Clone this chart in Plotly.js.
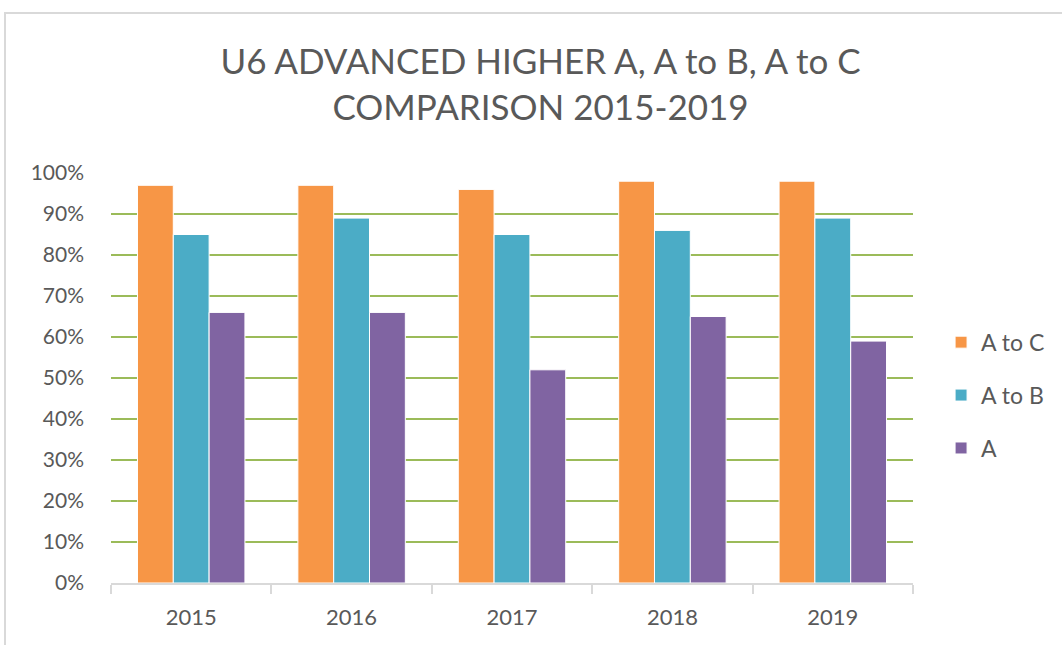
<!DOCTYPE html>
<html>
<head>
<meta charset="utf-8">
<script src="https://cdn.plot.ly/plotly-3.0.1.min.js"></script>
<style>
  html, body { margin: 0; padding: 0; background: #ffffff; }
  #frame { position: absolute; left: 4px; top: 12px; width: 1100px; height: 700px;
           border-left: 2px solid #d9d9d9; border-top: 2px solid #d9d9d9; }
  #chart { position: absolute; left: 0; top: 0; width: 1062px; height: 645px; }
</style>
</head>
<body>
<div id="frame"></div>
<div id="chart"></div>
<script>
const years = ["2015", "2016", "2017", "2018", "2019"];
const aToC = [0.97, 0.97, 0.96, 0.98, 0.98];
const aToB = [0.85, 0.89, 0.85, 0.86, 0.89];
const aOnly = [0.66, 0.66, 0.52, 0.65, 0.59];
const seriesNames = ["A to C", "A to B", "A"];
const colors = ["#F79646", "#4BACC6", "#8064A2"];

const values = [aToC, aToB, aOnly];
const traces = values.map((v, i) => ({
  type: "bar",
  name: seriesNames[i],
  x: years,
  y: v,
  legendgroup: "g" + i,
  marker: { color: colors[i], line: { color: "#ffffff", width: 1 } },
  hoverinfo: "x+y+name"
}));

const font = "Lato, 'Open Sans', sans-serif";
const layout = {
  width: 1062,
  height: 645,
  paper_bgcolor: "rgba(0,0,0,0)",
  plot_bgcolor: "rgba(0,0,0,0)",
  margin: { l: 111, r: 149, t: 173, b: 62, autoexpand: false },
  barmode: "group",
  bargap: 0.33,
  bargroupgap: 0,
  title: {
    text: "U6 ADVANCED HIGHER A, A to B, A to C<br>COMPARISON 2015-2019",
    font: { family: font, size: 35, color: "#595959" },
    xref: "container", x: 0.509, xanchor: "center",
    yref: "container", y: 0.885, yanchor: "top"
  },
  xaxis: {
    type: "category",
    showline: true, linecolor: "#d9d9d9", linewidth: 2,
    showgrid: false, automargin: false,
    ticks: "outside", tickson: "boundaries", ticklen: 9, tickcolor: "#d9d9d9", tickwidth: 2,
    ticklabelstandoff: 14,
    tickfont: { family: font, size: 22, color: "#595959" }
  },
  yaxis: {
    range: [0, 1.0],
    tickvals: [0, 0.1, 0.2, 0.3, 0.4, 0.5, 0.6, 0.7, 0.8, 0.9, 1.0],
    tickformat: ".0%",
    showgrid: true, gridcolor: "#9BBB59", gridwidth: 2,
    zeroline: false, showline: false, automargin: false,
    ticks: "", ticklabelstandoff: 26,
    tickfont: { family: font, size: 21, color: "#595959" }
  },
  legend: {
    x: 1.035, xanchor: "left", y: 0.458, yanchor: "middle",
    font: { family: font, size: 23, color: "#595959" },
    tracegroupgap: 20, itemwidth: 30,
    traceorder: "grouped"
  },
  showlegend: true
};

Plotly.newPlot("chart", traces, layout, { displayModeBar: false, staticPlot: true });
</script>
</body>
</html>
